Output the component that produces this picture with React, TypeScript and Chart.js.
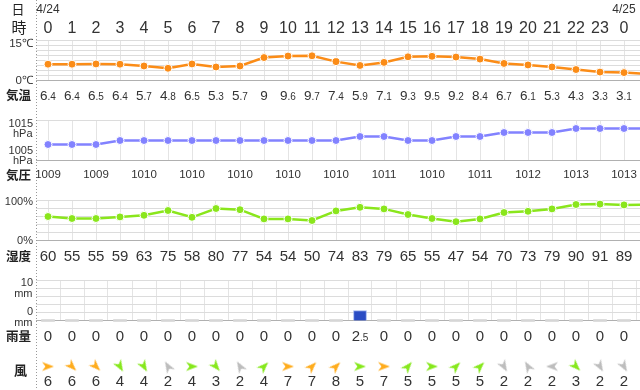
import React, { useEffect, useRef } from 'react';
import { Chart, registerables } from 'chart.js';

Chart.register(...registerables);

// ---- data ----
const hourLabels = ['0','1','2','3','4','5','6','7','8','9','10','11','12','13','14','15','16','17','18','19','20','21','22','23','0'];
const dateLabels = ['4/24', '4/25'];
const dateIndex = [0, 24];
const temperature = [6.4,6.4,6.5,6.4,5.7,4.8,6.5,5.3,5.7,9,9.6,9.7,7.4,5.9,7.1,9.3,9.5,9.2,8.4,6.7,6.1,5.3,4.3,3.3,3.1,2.5];
const pressure = [1009,1009,1009,1010,1010,1010,1010,1010,1010,1010,1010,1010,1010,1011,1011,1010,1010,1011,1011,1012,1012,1012,1013,1013,1013,1013];
const humidity = [60,55,55,59,63,75,58,80,77,54,54,50,74,83,79,65,55,47,54,70,73,79,90,91,89,90];
const rain = [0,0,0,0,0,0,0,0,0,0,0,0,0,2.5,0,0,0,0,0,0,0,0,0,0,0];
const windSpeed = [6,6,6,4,4,2,4,3,2,4,7,7,8,5,7,5,5,5,5,2,2,2,3,2,2];
const windDir = [0,45,45,60,60,-120,0,50,-120,-45,0,-45,-45,0,0,-50,0,-45,-45,60,-120,180,45,60,60];

// ---- layout / style ----
const W = 640;
const H = 390;
const COL = 24;
const X0 = 48;
const TEMP_PX = [40.5, 80.5];
const TEMP_VALS = [15.7, 0];
const PRES_PX = [120.5, 160.5];
const PRES_VALS = [1015, 1005];
const HUM_PX = [200.5, 240.5];
const HUM_VALS = [100, 0];
const RAIN_PX = [280.5, 320.5];
const RAIN_VALS = [10, 0];
const WIND_Y = 366.5;

const ORANGE = '#fb8c17';
const PURPLE = '#8282ff';
const LIME = '#8ae61c';
const TEXT = '#333333';
const NUM_FONT = '"Liberation Sans", Arial, sans-serif';
const JP_FONT = '"Noto Sans CJK JP", sans-serif';

function range(vTop: number, yTop: number, vBot: number, yBot: number) {
  const s = (vTop - vBot) / (yBot - yTop);
  return { min: vBot - s * (H - yBot), max: vTop + s * yTop };
}

function windColor(s: number) {
  if (s >= 6) return '#ffac1c';
  if (s >= 3) return '#86e81c';
  return '#bdbdbd';
}

function makeArrow(color: string) {
  const c = document.createElement('canvas');
  c.width = 14;
  c.height = 14;
  const g = c.getContext('2d')!;
  g.fillStyle = color;
  g.beginPath();
  g.moveTo(13, 7);
  g.lineTo(1, 2.5);
  g.lineTo(4.5, 7);
  g.lineTo(1, 11.5);
  g.closePath();
  g.fill();
  return c;
}

function splitNumber(ctx: CanvasRenderingContext2D, text: string, x: number, y: number, big: number, small: number) {
  const [ip, dp] = text.split('.');
  ctx.font = `${big}px ${NUM_FONT}`;
  const w1 = ctx.measureText(ip).width;
  let w2 = 0;
  if (dp) {
    ctx.font = `${small}px ${NUM_FONT}`;
    w2 = ctx.measureText('.' + dp).width;
  }
  const start = x - (w1 + w2) / 2;
  ctx.textAlign = 'left';
  ctx.textBaseline = 'alphabetic';
  ctx.font = `${big}px ${NUM_FONT}`;
  ctx.fillText(ip, start, y);
  if (dp) {
    ctx.font = `${small}px ${NUM_FONT}`;
    ctx.fillText('.' + dp, start + w1, y);
  }
}

const gridPlugin = {
  id: 'customGrid',
  beforeDatasetsDraw(chart: any) {
    const { ctx, scales } = chart;
    const xs = scales.x;
    const left = Math.round(xs.getPixelForValue(-0.5));
    const right = W;
    const crisp = (v: number) => Math.round(v - 0.5) + 0.5;
    ctx.save();
    ctx.lineWidth = 1;
    const hline = (y: number, color: string) => {
      ctx.strokeStyle = color;
      ctx.beginPath();
      ctx.moveTo(left, crisp(y));
      ctx.lineTo(right, crisp(y));
      ctx.stroke();
    };
    const vline = (x: number, y1: number, y2: number, color: string) => {
      ctx.strokeStyle = color;
      ctx.beginPath();
      ctx.moveTo(crisp(x), y1);
      ctx.lineTo(crisp(x), y2);
      ctx.stroke();
    };
    const panels = [
      { s: scales.yTemp, vals: TEMP_VALS, n: 8, half: false },
      { s: scales.yPres, vals: PRES_VALS, n: 1, half: false },
      { s: scales.yHum, vals: HUM_VALS, n: 5, half: false },
      { s: scales.yRain, vals: RAIN_VALS, n: 5, half: true },
    ];
    panels.forEach((p) => {
      const top = p.s.getPixelForValue(p.vals[0]);
      const bot = p.s.getPixelForValue(p.vals[1]);
      for (let i = 0; i <= 25; i++) {
        const xv = xs.getPixelForValue(p.half ? i + 0.5 : i);
        if (xv > left && xv < W) vline(xv, top, bot, '#e4e4e4');
      }
      for (let k = 0; k <= p.n; k++) {
        const v = p.vals[1] + ((p.vals[0] - p.vals[1]) * k) / p.n;
        hline(p.s.getPixelForValue(v), k === 0 ? '#b0b0b0' : '#dcdcdc');
      }
    });
    ctx.strokeStyle = '#999';
    ctx.setLineDash([1, 2]);
    ctx.beginPath();
    ctx.moveTo(left + 0.5, 0);
    ctx.lineTo(left + 0.5, H);
    ctx.stroke();
    ctx.restore();
  },
};

const textPlugin = {
  id: 'customText',
  afterDraw(chart: any) {
    const { ctx, scales } = chart;
    const xs = scales.x;
    const px = (i: number) => xs.getPixelForValue(i);
    ctx.save();
    ctx.fillStyle = TEXT;
    ctx.textAlign = 'center';
    ctx.textBaseline = 'alphabetic';

    ctx.font = `12px ${NUM_FONT}`;
    dateLabels.forEach((d, k) => ctx.fillText(d, px(dateIndex[k]), 12.5));
    ctx.font = `16px ${NUM_FONT}`;
    hourLabels.forEach((h, i) => ctx.fillText(h, px(i), 33));
    temperature.slice(0, hourLabels.length).forEach((v, i) => splitNumber(ctx, String(v), px(i), 100, 13.5, 10));
    ctx.fillStyle = TEXT;
    ctx.textAlign = 'center';
    ctx.font = `11.5px ${NUM_FONT}`;
    for (let i = 0; i < hourLabels.length; i += 2) ctx.fillText(String(pressure[i]), px(i), 177.5);
    ctx.font = `15px ${NUM_FONT}`;
    for (let i = 0; i < hourLabels.length; i++) ctx.fillText(String(humidity[i]), px(i), 261);
    rain.forEach((v, i) => splitNumber(ctx, String(v), px(i), 341, 15, 10));
    ctx.textAlign = 'center';
    ctx.font = `15px ${NUM_FONT}`;
    windSpeed.forEach((v, i) => ctx.fillText(String(v), px(i), 385.5));

    ctx.textAlign = 'center';
    ctx.textBaseline = 'middle';
    ctx.fillStyle = '#222';
    ctx.font = `13px ${JP_FONT}`;
    ctx.fillText('日', 18, 9);
    ctx.font = `15px ${JP_FONT}`;
    ctx.fillText('時', 19, 27);
    ctx.font = `bold 12.5px ${JP_FONT}`;
    ctx.fillText('気温', 18.5, 95.5);
    ctx.fillText('気圧', 18.5, 175.5);
    ctx.fillText('湿度', 18.5, 256);
    ctx.fillText('雨量', 18.5, 336);
    ctx.font = `bold 13px ${JP_FONT}`;
    ctx.fillText('風', 20.5, 370.5);

    ctx.textAlign = 'right';
    ctx.fillStyle = TEXT;
    ctx.font = `11.5px ${NUM_FONT}`;
    ctx.fillText('15℃', 33, 43.5);
    ctx.fillText('0℃', 33, 80.5);
    ctx.font = `11px ${NUM_FONT}`;
    ctx.fillText('1015', 33, 123.5);
    ctx.fillText('hPa', 32.5, 133.5);
    ctx.fillText('1005', 33, 151);
    ctx.fillText('hPa', 32.5, 161);
    ctx.fillText('100%', 33, 201.5);
    ctx.fillText('0%', 33, 240.5);
    ctx.fillText('10', 33, 283);
    ctx.fillText('mm', 32.5, 294);
    ctx.fillText('0', 33, 311.5);
    ctx.fillText('mm', 32.5, 322.5);
    ctx.restore();
  },
};

export default function App() {
  const ref = useRef<HTMLCanvasElement>(null);
  useEffect(() => {
    if (!ref.current) return;
    const arrows: Record<string, HTMLCanvasElement> = {};
    const arrowFor = (s: number) => {
      const c = windColor(s);
      if (!arrows[c]) arrows[c] = makeArrow(c);
      return arrows[c];
    };
    const xy = (arr: number[]) => arr.map((v, i) => ({ x: i, y: v }));
    const chart = new Chart(ref.current, {
      type: 'line',
      data: {
        datasets: [
          {
            type: 'bar',
            label: '雨量',
            data: xy(rain),
            yAxisID: 'yRain',
            backgroundColor: rain.map((v) => (v > 0 ? '#2a4cc4' : '#d6d6d6')),
            borderColor: rain.map((v) => (v > 0 ? '#9ab0ee' : '#d6d6d6')),
            borderWidth: rain.map((v) => (v > 0 ? 1 : 0)),
            barThickness: 13,
            minBarLength: 2,
          } as any,
          {
            label: '気温',
            data: xy(temperature),
            yAxisID: 'yTemp',
            borderColor: ORANGE,
            borderWidth: 2.5,
            pointRadius: 4,
            pointBackgroundColor: ORANGE,
            pointBorderColor: '#ffffff',
            pointBorderWidth: 1,
            tension: 0,
          },
          {
            label: '気圧',
            data: xy(pressure),
            yAxisID: 'yPres',
            borderColor: PURPLE,
            borderWidth: 2.5,
            pointRadius: 4,
            pointBackgroundColor: PURPLE,
            pointBorderColor: '#ffffff',
            pointBorderWidth: 1,
            tension: 0,
          },
          {
            label: '湿度',
            data: xy(humidity),
            yAxisID: 'yHum',
            borderColor: LIME,
            borderWidth: 2.5,
            pointRadius: 4,
            pointBackgroundColor: LIME,
            pointBorderColor: '#ffffff',
            pointBorderWidth: 1,
            tension: 0,
          },
          {
            label: '風',
            data: windSpeed.map((_, i) => ({ x: i, y: 0 })),
            yAxisID: 'yWind',
            showLine: false,
            pointStyle: windSpeed.map((s) => arrowFor(s)) as any,
            pointRotation: windDir,
            pointRadius: 6,
          },
        ],
      },
      options: {
        animation: false,
        responsive: false,
        devicePixelRatio: 1,
        layout: { padding: 0, autoPadding: false },
        plugins: { legend: { display: false }, tooltip: { enabled: false } },
        events: [],
        scales: {
          x: { type: 'linear', display: false, offset: false, min: -X0 / COL, max: (W - X0) / COL, bounds: 'data' },
          yTemp: { type: 'linear', display: false, bounds: 'data', ...range(TEMP_VALS[0], TEMP_PX[0], TEMP_VALS[1], TEMP_PX[1]) },
          yPres: { type: 'linear', display: false, bounds: 'data', ...range(PRES_VALS[0], PRES_PX[0], PRES_VALS[1], PRES_PX[1]) },
          yHum: { type: 'linear', display: false, bounds: 'data', ...range(HUM_VALS[0], HUM_PX[0], HUM_VALS[1], HUM_PX[1]) },
          yRain: { type: 'linear', display: false, bounds: 'data', ...range(RAIN_VALS[0], RAIN_PX[0], RAIN_VALS[1], RAIN_PX[1]) },
          yWind: { type: 'linear', display: false, bounds: 'data', ...range(1, WIND_Y - 10, 0, WIND_Y) },
        },
      } as any,
      plugins: [gridPlugin, textPlugin],
    });
    return () => chart.destroy();
  }, []);
  return (
    <div style={{ position: 'absolute', left: 0, top: 0, width: W, height: H, background: '#fff' }}>
      <canvas ref={ref} width={W} height={H} style={{ display: 'block', width: W, height: H }} />
    </div>
  );
}
